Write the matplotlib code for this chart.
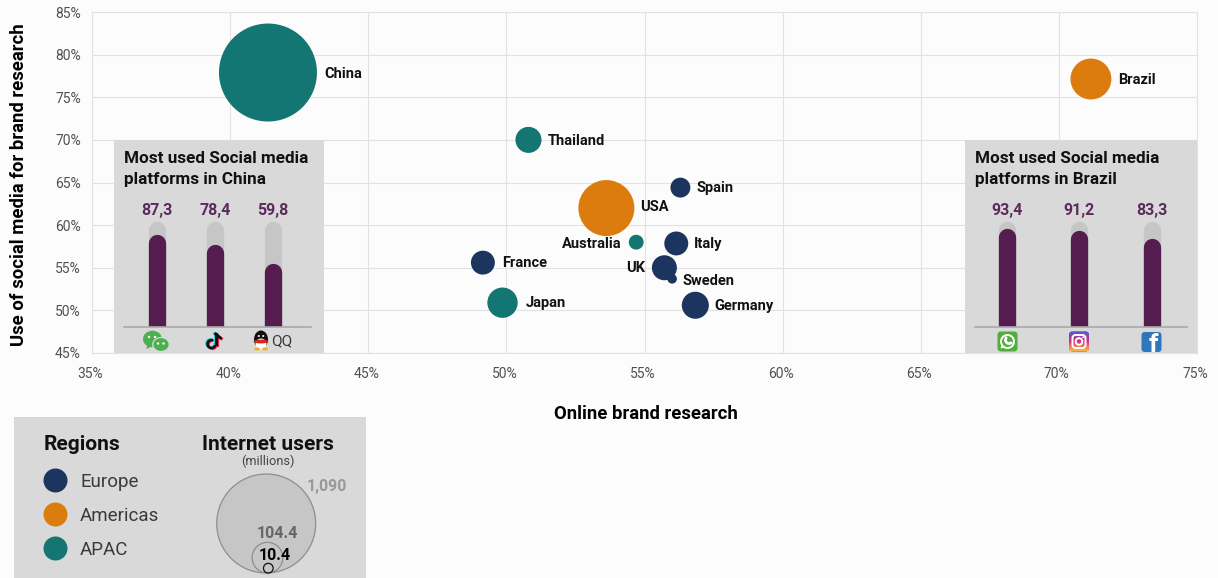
import numpy as np
import matplotlib
matplotlib.use("Agg")
import matplotlib.pyplot as plt
from matplotlib.patches import Arc, Circle, Ellipse, FancyBboxPatch, Polygon, Rectangle
from matplotlib.transforms import ScaledTranslation

plt.rcParams["font.family"] = ["Roboto", "DejaVu Sans"]

W, H = 1218, 578

countries = ["China", "Brazil", "Thailand", "USA", "Spain", "Australia", "Italy",
             "France", "UK", "Sweden", "Japan", "Germany"]
online_research = [41.37, 71.16, 50.8, 53.62, 56.3, 54.7, 56.15, 49.15, 55.72, 56.0, 49.86, 56.84]
social_research = [77.9, 77.14, 70.0, 62.0, 64.4, 58.0, 57.85, 55.6, 55.0, 53.7, 50.9, 50.6]
internet_users = [1090, 190, 77, 356, 45, 25, 65, 65, 71, 10.4, 104.4, 83]
regions = ["APAC", "Americas", "APAC", "Americas", "Europe", "APAC", "Europe",
           "Europe", "Europe", "Europe", "APAC", "Europe"]
region_names = ["Europe", "Americas", "APAC"]
region_colors = {"Europe": "#1c355e", "Americas": "#dd7c0e", "APAC": "#137673"}

x_ticks = [35, 40, 45, 50, 55, 60, 65, 70, 75]
y_ticks = [45, 50, 55, 60, 65, 70, 75, 80, 85]

china_values = [87.3, 78.4, 59.8]
brazil_values = [93.4, 91.2, 83.3]
legend_users = [1090, 104.4, 10.4]
legend_user_labels = ["1,090", "104.4", "10.4"]

# label placement in pixels relative to the bubble centre
label_offsets = {"China": (56, 1), "Brazil": (27, 1), "Thailand": (19, 1), "USA": (34, -1),
                 "Spain": (16, 0), "Australia": (-15, 2), "Italy": (18, 1), "France": (19, 0),
                 "UK": (-19, 0), "Sweden": (10, 2), "Japan": (23, 0), "Germany": (19, 1)}
label_left = {"Australia", "UK"}

MAX_RADIUS = 49.0
PANEL_GREY = "#d9d9d9"
TRACK_GREY = "#c6c6c6"
PURPLE = "#551c4f"


def radius(value):
    return MAX_RADIUS * np.sqrt(value / 1090)


def px_rect(left, top, right, bottom):
    return [left / W, 1 - bottom / H, (right - left) / W, (bottom - top) / H]


fig = plt.figure(figsize=(W / 100, H / 100), dpi=100, facecolor="#fcfcfc")

ax = fig.add_axes(px_rect(92, 12, 1197, 353), zorder=1)
ax.set_facecolor("#fcfcfc")
ax.set_xlim(35, 75)
ax.set_ylim(45, 85)
ax.set_xticks(x_ticks)
ax.set_yticks(y_ticks)
ax.set_xticklabels([f"{t}%" for t in x_ticks])
ax.set_yticklabels([f"{t}%" for t in y_ticks])
ax.tick_params(length=0, labelsize=10, labelcolor="#505050")
ax.tick_params(axis="x", pad=10)
ax.tick_params(axis="y", pad=8)
for lab in ax.get_xticklabels():
    lab.set_transform(lab.get_transform() + ScaledTranslation(-2 / 100, 0, fig.dpi_scale_trans))
ax.grid(color="#e2e2e2", lw=0.8)
ax.set_axisbelow(True)
for spine in ax.spines.values():
    spine.set_color("#e2e2e2")
    spine.set_linewidth(0.8)
ax.set_xlabel("Online brand research", fontsize=13.3, fontweight="bold")
ax.xaxis.set_label_coords((646 - 92) / 1105, -(414 - 353) / 341, transform=ax.transAxes)
ax.xaxis.label.set_va("center")
ax.set_ylabel("Use of social media for brand research", fontsize=13.3, fontweight="bold")
ax.yaxis.set_label_coords((19 - 92) / 1105, (353 - 185) / 341, transform=ax.transAxes)
ax.yaxis.label.set_va("center")

sizes = [(2 * radius(v) * 0.72) ** 2 for v in internet_users]
ax.scatter(online_research, social_research, s=sizes,
           c=[region_colors[r] for r in regions], linewidths=0, zorder=3, clip_on=False)
for name, xv, yv in zip(countries, online_research, social_research):
    dx, dy = label_offsets[name]
    ha = "right" if name in label_left else "left"
    ax.annotate(name, (xv, yv), xytext=(dx * 0.72, -dy * 0.72), textcoords="offset points",
                ha=ha, va="center", fontsize=10.5, fontweight="bold", color="#111111", zorder=4)

# pixel overlay for the grey panels, legend and logos
ov = fig.add_axes([0, 0, 1, 1], zorder=2)
ov.set_xlim(0, W)
ov.set_ylim(H, 0)
ov.axis("off")
ov.patch.set_alpha(0)

ov.add_patch(Rectangle((114, 140), 210, 213, fc=PANEL_GREY, ec="none"))
ov.add_patch(Rectangle((965, 140), 232, 213, fc=PANEL_GREY, ec="none"))
ov.add_patch(Rectangle((14, 417), 352, 161, fc=PANEL_GREY, ec="none"))

ov.text(124, 169, "Most used Social media\nplatforms in China", fontsize=12.3, fontweight="bold",
        va="center", ha="left", linespacing=1.45, color="#111111")
ov.text(975, 169, "Most used Social media\nplatforms in Brazil", fontsize=12.3, fontweight="bold",
        va="center", ha="left", linespacing=1.45, color="#111111")


def bar_panel(rect_px, xlim, values):
    bx = fig.add_axes(px_rect(*rect_px), zorder=3)
    bx.set_xlim(*xlim)
    bx.set_ylim(0, 100)
    bx.axis("off")
    height_px = rect_px[3] - rect_px[1]
    cap = 8.65 / height_px * 100
    lw = 17.3 * 0.72
    for i, v in enumerate(values):
        bx.plot([i, i], [-cap, 100 - cap], color=TRACK_GREY, lw=lw, solid_capstyle="round")
        bx.plot([i, i], [-cap, v - cap], color=PURPLE, lw=lw, solid_capstyle="round")
        bx.annotate(f"{v:.1f}".replace(".", ","), (i, 100), xytext=(0, 7.5), textcoords="offset points",
                    ha="center", va="center", fontsize=11.5, fontweight="bold", color="#5c2a5c",
                    annotation_clip=False)
    bx.axhline(0, color="#a8a8a8", lw=1.2, clip_on=False, zorder=5)


bar_panel((124, 221, 311, 327), (-0.564, 2.66), china_values)
bar_panel((975, 221, 1187, 327), (-0.447, 2.49), brazil_values)


def wechat(cx, cy):
    green = "#4caf50"
    ov.add_patch(Ellipse((cx - 3, cy - 2), 19, 16.5, fc=green, ec="none"))
    ov.add_patch(Polygon([(cx - 8, cy + 3), (cx - 9, cy + 8), (cx - 3, cy + 5)], fc=green, ec="none"))
    ov.add_patch(Ellipse((cx + 5.5, cy + 3.5), 16.5, 14, fc=green, ec=PANEL_GREY, lw=0.9))
    for px, py in [(-6.5, -4), (-0.5, -4), (2.5, 2.5), (8, 2.5)]:
        ov.add_patch(Circle((cx + px, cy + py), 1.2, fc="white", ec="none"))


def tiktok(cx, cy):
    for col, dx, dy in [("#25d9e0", -1, -0.6), ("#f0204f", 1, 0.6), ("#111111", 0, 0)]:
        ov.add_patch(Arc((cx - 3 + dx, cy + 3 + dy), 8, 8, theta1=-10, theta2=290, ec=col, lw=1.9))
        ov.plot([cx + 1 + dx, cx + 1 + dx], [cy - 7 + dy, cy + 3 + dy], color=col, lw=2.2)
        ov.plot([cx + 1 + dx, cx + 6 + dx], [cy - 7 + dy, cy - 3 + dy], color=col, lw=2)


def qq(cx, cy):
    ov.add_patch(Ellipse((cx, cy - 1.5), 14, 18, fc="#111111", ec="none"))
    ov.add_patch(Ellipse((cx, cy + 3), 11, 11, fc="white", ec="none"))
    ov.add_patch(Ellipse((cx, cy + 0.5), 15, 3.8, fc="#d8261c", ec="none"))
    ov.add_patch(Ellipse((cx - 4, cy + 8), 6, 3, fc="#f2b01e", ec="none"))
    ov.add_patch(Ellipse((cx + 4, cy + 8), 6, 3, fc="#f2b01e", ec="none"))
    ov.add_patch(Circle((cx - 2.2, cy - 5), 1, fc="white", ec="none"))
    ov.add_patch(Circle((cx + 2.2, cy - 5), 1, fc="white", ec="none"))


def rounded_square(cx, cy, size, color):
    box = FancyBboxPatch((cx - size / 2 + 3, cy - size / 2 + 3), size - 6, size - 6,
                         boxstyle="round,pad=3,rounding_size=3.5", fc=color, ec="none")
    ov.add_patch(box)
    return box


def whatsapp(cx, cy):
    rounded_square(cx, cy, 20, "#4fae3c")
    ov.add_patch(Circle((cx, cy), 6.5, fc="none", ec="white", lw=1.4))
    ov.add_patch(Polygon([(cx - 6, cy + 3), (cx - 7, cy + 7), (cx - 3, cy + 6)], fc="white", ec="none"))
    ov.add_patch(Arc((cx + 1.5, cy - 1.5), 7, 7, theta1=35, theta2=235, ec="white", lw=2))


def instagram(cx, cy):
    box = rounded_square(cx, cy, 20, "#c13584")
    grad = np.linspace(0, 1, 64)
    top = np.array([0.32, 0.36, 0.80])
    mid = np.array([0.83, 0.18, 0.50])
    low = np.array([0.99, 0.72, 0.25])
    rows = [top + (mid - top) * g / 0.5 if g < 0.5 else mid + (low - mid) * (g - 0.5) / 0.5 for g in grad]
    img = ov.imshow(np.array(rows)[:, None, :], extent=(cx - 10, cx + 10, cy + 10, cy - 10),
                    aspect="auto", zorder=2)
    img.set_clip_path(box)
    ov.add_patch(FancyBboxPatch((cx - 4, cy - 4), 8, 8, boxstyle="round,pad=2.5,rounding_size=3",
                                fc="none", ec="white", lw=1.4, zorder=3))
    ov.add_patch(Circle((cx, cy), 3.3, fc="none", ec="white", lw=1.4, zorder=3))
    ov.add_patch(Circle((cx + 4.2, cy - 4.2), 0.9, fc="white", ec="none", zorder=3))


def facebook(cx, cy):
    box = rounded_square(cx, cy, 20, "#2f76ba")
    t = ov.text(cx + 1.5, cy + 2.5, "f", fontsize=19, fontweight="bold", color="white",
                ha="center", va="center")
    t.set_clip_path(box)


wechat(155.5, 341)
tiktok(214.5, 341)
qq(261, 341)
ov.text(282, 341, "QQ", fontsize=11, fontweight="normal", color="#3a3a3a", ha="center", va="center")
whatsapp(1007.5, 341.5)
instagram(1079, 341.5)
facebook(1151.5, 342)

# legend
ov.text(44, 444, "Regions", fontsize=15, fontweight="bold", color="#111111", va="center")
for name, yp in zip(region_names, [480.5, 514.5, 548.5]):
    ov.add_patch(Circle((55.5, yp), 12, fc=region_colors[name], ec="none"))
    ov.text(80, yp + 1.5, name, fontsize=13.5, fontweight="normal", color="#3a3a3a", va="center")

ov.text(268, 444, "Internet users", fontsize=15, fontweight="bold", color="#111111", ha="center", va="center")
ov.text(268, 461, "(millions)", fontsize=9.2, fontweight="normal", color="#444444", ha="center", va="center")

legend_bottom = 573
legend_x = [266.2, 267.5, 268.3]
legend_fill = ["#c6c6c6", "#c6c6c6", "none"]
for val, xp, fc in zip(legend_users, legend_x, legend_fill):
    r = radius(val) * 1.01
    ov.add_patch(Circle((xp, legend_bottom - r), r, fc=fc, ec="#8e8e8e" if val > 20 else "#111111", lw=0.9))
legend_label_pos = [(327, 486), (277, 533), (275, 556)]
legend_label_col = ["#999999", "#666666", "#000000"]
for txt, (xp, yp), col in zip(legend_user_labels, legend_label_pos, legend_label_col):
    ov.text(xp, yp, txt, fontsize=11.5, fontweight="bold", color=col, ha="center", va="center")

ov.set_xlim(0, W)
ov.set_ylim(H, 0)

fig.savefig("out.png", dpi=100, facecolor=fig.get_facecolor())
